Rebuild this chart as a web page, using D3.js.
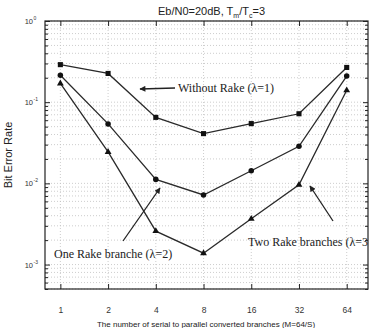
<!DOCTYPE html>
<html><head><meta charset="utf-8">
<script src="https://cdn.jsdelivr.net/npm/d3@7"></script>
<style>body{margin:0;background:#fff}</style>
</head><body>
<svg id="c" width="371" height="328"></svg>
<script>
const branches = [1, 2, 4, 8, 16, 32, 64];
const withoutRake = [0.29, 0.226, 0.065, 0.041, 0.0545, 0.072, 0.268];
const oneRake = [0.215, 0.054, 0.0112, 0.0072, 0.0143, 0.0286, 0.21];
const twoRake = [0.17, 0.0244, 0.00258, 0.00138, 0.00366, 0.0096, 0.14];
const yMajor = [1, 0.1, 0.01, 0.001];
const yExp = ["0", "-1", "-2", "-3"];

const svg = d3.select("#c");
const L = 45, R = 368, T = 21, B = 289;
const x = d3.scaleLog().base(2).domain([0.8, 87.2]).range([L, R]);
const y = d3.scaleLog().domain([5e-4, 1]).range([B, T]);

const yMinor = [];
[1e-4, 1e-3, 1e-2, 1e-1].forEach(d => { for (let k = 2; k <= 9; k++) { const v = d * k; if (v >= 5e-4 && v < 1) yMinor.push(v); } });

const g = svg.append("g");
g.selectAll(".gy").data(yMinor.concat(yMajor)).join("line")
  .attr("x1", L).attr("x2", R).attr("y1", d => y(d)).attr("y2", d => y(d))
  .attr("stroke", "#c0c0c0").attr("stroke-width", 0.8).attr("stroke-dasharray", "1,2");
g.selectAll(".gx").data(branches).join("line")
  .attr("y1", T).attr("y2", B).attr("x1", d => x(d)).attr("x2", d => x(d))
  .attr("stroke", "#c0c0c0").attr("stroke-width", 0.8).attr("stroke-dasharray", "1,2");

g.append("rect").attr("x", L).attr("y", T).attr("width", R - L).attr("height", B - T)
  .attr("fill", "none").attr("stroke", "#222").attr("stroke-width", 1.2);

const xb = svg.append("g").attr("transform", `translate(0,${B})`)
  .call(d3.axisBottom(x).tickValues(branches).tickSize(-5).tickPadding(18).tickFormat(d3.format("d")));
const xt = svg.append("g").attr("transform", `translate(0,${T})`)
  .call(d3.axisTop(x).tickValues(branches).tickSize(-5).tickFormat(""));
const yl = svg.append("g").attr("transform", `translate(${L},0)`)
  .call(d3.axisLeft(y).tickValues(yMajor).tickSize(-5).tickFormat(""));
const yr = svg.append("g").attr("transform", `translate(${R},0)`)
  .call(d3.axisRight(y).tickValues(yMajor).tickSize(-5).tickFormat(""));
const ylm = svg.append("g").attr("transform", `translate(${L},0)`)
  .call(d3.axisLeft(y).tickValues(yMinor).tickSize(-3).tickFormat(""));
const yrm = svg.append("g").attr("transform", `translate(${R},0)`)
  .call(d3.axisRight(y).tickValues(yMinor).tickSize(-3).tickFormat(""));
[xb, xt, yl, yr, ylm, yrm].forEach(a => {
  a.select(".domain").remove();
  a.selectAll("line").attr("stroke", "#222").attr("stroke-width", 1);
});
xb.selectAll("text").attr("font-family", "Liberation Sans, Arial, sans-serif").attr("font-size", 8.5).attr("fill", "#333");

const ylab = svg.append("g");
yMajor.forEach((v, i) => {
  ylab.append("text").attr("x", 33).attr("y", y(v) + 3)
    .attr("text-anchor", "end").attr("font-family", "Liberation Sans, Arial, sans-serif")
    .attr("font-size", 7.5).attr("fill", "#333").text("10");
  ylab.append("text").attr("x", 33.5).attr("y", y(v) - 1)
    .attr("font-family", "Liberation Sans, Arial, sans-serif").attr("font-size", 5).attr("fill", "#333").text(yExp[i]);
});

const series = [
  { vals: withoutRake, shape: d3.symbolSquare, size: 26 },
  { vals: oneRake, shape: d3.symbolCircle, size: 24 },
  { vals: twoRake, shape: d3.symbolTriangle, size: 20 }
];
const line = d3.line().x(d => x(d[0])).y(d => y(d[1]));
series.forEach(s => {
  const pts = branches.map((b, i) => [b, s.vals[i]]);
  svg.append("path").attr("d", line(pts)).attr("fill", "none").attr("stroke", "#2a2a2a").attr("stroke-width", 1.3);
  svg.selectAll(null).data(pts).join("path")
    .attr("transform", d => `translate(${x(d[0])},${y(d[1])})`)
    .attr("d", d3.symbol().type(s.shape).size(s.size)).attr("fill", "#111");
});

svg.append("defs").append("marker").attr("id", "ah").attr("viewBox", "0 0 10 10")
  .attr("refX", 9).attr("refY", 5).attr("markerWidth", 7).attr("markerHeight", 6)
  .attr("orient", "auto").attr("markerUnits", "userSpaceOnUse")
  .append("path").attr("d", "M0,0 L10,5 L0,10 Z").attr("fill", "#222");
const arrows = [[175, 88, 140, 89], [123, 241, 160, 188], [333, 221, 310, 186]];
arrows.forEach(a => svg.append("line").attr("x1", a[0]).attr("y1", a[1]).attr("x2", a[2]).attr("y2", a[3])
  .attr("stroke", "#222").attr("stroke-width", 1.3).attr("marker-end", "url(#ah)"));

const serif = "Liberation Serif, Times New Roman, serif";
svg.append("clipPath").attr("id", "pc").append("rect").attr("x", L).attr("y", T).attr("width", R - L).attr("height", B - T);
svg.append("text").attr("x", 178).attr("y", 92).attr("font-family", serif).attr("font-size", 12).attr("fill", "#222").text("Without Rake (λ=1)");
svg.append("text").attr("x", 54).attr("y", 258).attr("font-family", serif).attr("font-size", 12).attr("fill", "#222").text("One Rake branche (λ=2)");
svg.append("text").attr("x", 248).attr("y", 246).attr("font-family", serif).attr("font-size", 12).attr("fill", "#222")
  .attr("clip-path", "url(#pc)").text("Two Rake branches (λ=3)");

const sans = "Liberation Sans, Arial, sans-serif";
const title = svg.append("text").attr("x", 158).attr("y", 15).attr("font-family", sans).attr("font-size", 11).attr("fill", "#222");
title.append("tspan").text("Eb/N0=20dB, T");
title.append("tspan").attr("font-size", 7).attr("dy", 3).text("m");
title.append("tspan").attr("dy", -3).text("/T");
title.append("tspan").attr("font-size", 7).attr("dy", 3).text("c");
title.append("tspan").attr("dy", -3).text("=3");

svg.append("text").attr("transform", "translate(12,155) rotate(-90)").attr("text-anchor", "middle")
  .attr("font-family", sans).attr("font-size", 11).attr("fill", "#222").text("Bit Error Rate");
svg.append("text").attr("x", 206).attr("y", 327).attr("text-anchor", "middle")
  .attr("font-family", sans).attr("font-size", 8).attr("fill", "#222").text("The number of serial to parallel converted branches (M=64/S)");
</script>
</body></html>
